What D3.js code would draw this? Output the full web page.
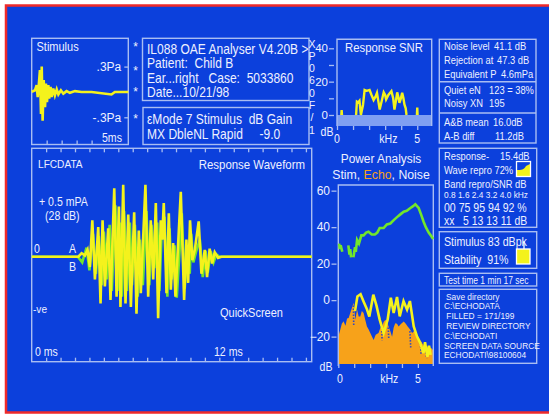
<!DOCTYPE html>
<html>
<head>
<meta charset="utf-8">
<script src="https://cdn.jsdelivr.net/npm/d3@7"></script>
<style>
  body { margin: 0; background: #fff; }
  text { font-family: "Liberation Sans", Arial, sans-serif; fill: #eef0ff; white-space: pre; }
  .axis text { font-size: 12px; fill: #eef0ff; }
</style>
</head>
<body>
<div class="container"></div>
<script>
// ---- stimulus click (ms, Pa)
const stimT = [0, 0.22, 0.33, 0.40, 0.49, 0.55, 0.62, 0.67, 0.73, 0.80, 0.89, 0.95, 1.02, 1.11, 1.17, 1.26, 1.33, 1.44, 1.55, 1.67, 1.78, 1.95, 2.11, 2.33, 2.55, 2.89, 3.33, 4.00, 5.33, 5.55, 6.45];
const stimA = [0, 0.02, 0.08, -0.06, 0.12, 0.26, -0.26, 0.30, -0.34, 0.14, -0.18, 0.10, -0.12, 0.08, -0.08, 0.06, -0.06, 0.04, -0.04, 0.03, -0.03, 0.02, -0.02, 0.01, -0.01, 0.01, 0, 0, -0.03, 0, 0];

// ---- response waveform (ms, mPa) trace A (yellow) and B (green)
const waveT = [0, 3.23, 3.46, 3.69, 3.87, 4.03, 4.20, 4.38, 4.61, 4.77, 4.91, 5.07, 5.30, 5.46, 5.72, 5.88, 6.04, 6.15, 6.34, 6.50, 6.69, 6.87, 7.10, 7.26, 7.42, 7.56, 7.88, 8.07, 8.25, 8.42, 8.60, 8.76, 8.94, 9.04, 9.15, 9.34, 9.50, 9.64, 9.80, 9.96, 10.33, 10.56, 10.72, 10.84, 10.97, 11.13, 11.30, 11.57, 11.76, 11.99, 12.15, 12.33, 12.50, 12.68, 12.91, 13.14, 19.4];
const waveA = [0, 0, 0.03, 0.01, 0.06, -0.09, 0.32, -0.20, 0.26, -0.41, 0.32, -0.26, 0.25, -0.38, 0.60, -0.35, 0.44, -0.44, 0.63, -0.41, 0.37, -0.44, 0.39, -0.50, 0.23, -0.32, 0.63, -0.35, 0.32, -0.20, 0.47, -0.54, 0.32, 0.15, 0.47, -0.32, 0.38, -0.29, 0.12, -0.35, 0.57, -0.38, 0.15, -0.23, 0.32, -0.03, 0.06, 0.31, -0.15, 0.06, -0.18, 0.07, -0.06, 0.04, -0.01, 0, 0];
const waveBT = [0, 3.2, 3.5, 3.8, 4.0, 4.25, 4.45, 4.65, 4.85, 5.0, 5.2, 5.4, 5.55, 5.8, 5.95, 6.1, 6.25, 6.4, 6.6, 6.8, 6.95, 7.15, 7.35, 7.5, 7.7, 7.95, 8.15, 8.3, 8.5, 8.7, 8.85, 9.0, 9.2, 9.4, 9.55, 9.7, 9.9, 10.05, 10.4, 10.6, 10.8, 10.95, 11.05, 11.2, 11.4, 11.65, 11.85, 12.05, 12.2, 12.4, 12.6, 12.8, 13.0, 19.4];
const waveBA = [0, 0, -0.05, 0.08, -0.12, 0.2, -0.15, 0.18, -0.25, 0.22, -0.2, 0.28, -0.3, 0.45, -0.3, 0.3, -0.35, 0.4, -0.3, 0.3, -0.25, 0.28, -0.35, 0.15, -0.25, 0.4, -0.25, 0.28, -0.1, 0.3, -0.3, 0.2, 0.35, -0.35, 0.25, -0.2, 0.1, -0.36, 0.38, -0.28, 0.1, -0.15, 0.2, -0.05, 0.05, 0.15, -0.18, 0.05, -0.14, 0.05, -0.05, 0.02, 0, 0];

// ---- response SNR (kHz, dB), null = gap
const snrF  = [0.27, 0.29, 0.31, 0.6, 1.19, 1.24, 1.32, 1.40, 1.49, 1.62, 1.72, 1.85, 2.03, 2.15, 2.28, 2.40, 2.49, 2.58, 2.66, 2.80, 2.91, 3.00, 3.06, 3.20, 3.39, 3.50, 3.58, 3.68, 3.75, 3.82, 3.89, 3.98, 4.06, 4.14, 4.20, 4.28, 4.33, 4.6, 4.98, 5.0, 5.02];
const snrDb = [0, 3, 0, null, 0, 8, 7.5, 8.5, 0, 6, 15, 14.5, 15, 12, 9, 11, 13.3, 8, 3.3, 9, 13.6, 12, 9.3, 12, 14.3, 10, 3.3, 9, 13.6, 11, 7.3, 10, 13.3, 10, 6.3, 4, 0, null, 0, 4.5, 0];

// ---- power analysis (kHz, dB)
const powStimF  = [0.05, 0.1, 0.15, 0.25, 0.4, 0.63, 0.7, 0.75, 0.8, 0.9, 0.95, 1.05, 1.1, 1.18, 1.3, 1.45, 1.59, 1.75, 1.9, 2.1, 2.3, 2.45, 2.6, 2.85, 3.05, 3.27, 3.5, 3.69, 3.9, 4.11, 4.3, 4.53, 4.7, 4.84, 5.05, 5.2, 5.36, 5.5, 5.68, 5.85, 5.96];
const powStimDb = [31, 28, 30, 26.5, null, 30, 25, 28, 23.5, null, 23.5, 29, 26.5, 33, 31, 35.5, 35.5, 37, 37.5, 36, 36, 37, 39.5, 39.5, 41.5, 42, 44, 45.5, 47, 48.5, 49, 50.5, 51.5, 52.5, 50.5, 47, 43, 40, 37, 35, 33.5];
const powEchoF  = [0, 0.13, 0.22, 0.33, 0.45, 0.55, 0.65, 0.75, 0.86, 0.96, 1.02, 1.07, 1.18, 1.28, 1.38, 1.48, 1.59, 1.7, 1.8, 1.9, 2.01, 2.12, 2.22, 2.35, 2.53, 2.65, 2.75, 2.85, 2.96, 3.06, 3.16, 3.27, 3.38, 3.48, 3.58, 3.69, 3.79, 3.95, 4.11, 4.24, 4.36, 4.5, 4.64, 4.75, 4.84, 5.0, 5.16, 5.3, 5.47, 5.58, 5.68, 5.8, 5.97];
const powEchoDb = [-20, -16, -13, -11.6, -14, -10, -9.8, -7, -4.2, -1.5, -6, -10.7, -5.2, -9, -8.9, -6, -7, -11, -14.4, -16, -18, -20, -21.8, -19, -18, -15, -14.4, -12, -10.7, -12, -14.4, -17, -20, -15, -12.6, -13, -14.4, -13, -11.7, -13, -14.4, -16, -18, -17, -17.6, -20, -21.8, -24, -26.5, -25, -27.4, -26, -27.4];
const powRespF  = [1.05, 1.2, 1.4, 1.6, 1.8, 1.95, 2.2, 2.4, 2.6, 2.85, 3.1, 3.3, 3.48, 3.69, 3.86, 4.1, 4.32, 4.5, 4.74, 4.95, 5.15, 5.35, 5.45, 5.6, 5.7, 5.8];
const powRespDb = [-6, 2, 3.2, -1, -5, -9, 3, -3, -10.7, -18, -10.7, 1.3, -7, 1.7, -8.9, -0.5, -5.2, -0.5, -14.4, -20, -23.5, -29, -23, -31, -25, -30];
// noise dips showing through the echo fill
const powNoiseF  = [0.95, 0.97, 1.6, 2.72, 2.75, 3.0, 3.14, 3.17, 4.0, 4.5, 4.55, 5.0, 5.15, 5.2, 5.3, 5.5, 5.55];
const powNoiseDb = [-3, -14, null, -12, -22, null, -15, -21, null, -17, -26, null, -22, -30, null, -27, -32];

// ---- texts
const infoLines = ["IL088 OAE Analyser V4.20B >", "Patient:  Child B", "Ear...right   Case:  5033860", "Date...10/21/98"];
const modeLines = ["\u03b5Mode 7 Stimulus  dB Gain", "MX DbleNL Rapid     -9.0"];
const sideLetters = ["X", "P", "0", "6", "0", "F", "/", "1"];
const statLabels = ["Noise level", "Rejection at", "Equivalent P", "Quiet eN", "Noisy XN", "A&B mean", "A-B diff"];
const statValues = ["41.1 dB", "47.3 dB", "4.6mPa", "123 = 38%", "195", "16.0dB", "11.2dB"];
const bandFreqs = "0.8 1.6 2.4 3.2 4.0 kHz";
const bandRepro = "00 75 95 94 92 %";
const bandSnr = "xx   5 13 13 11 dB";
const saveLines = ["Save directory", "C:\\ECHODATA", " FILLED = 171/199", " REVIEW DIRECTORY", "C:\\ECHODATI", "SCREEN DATA SOURCE", "ECHODATI\\98100604"];

const BG = "#0c40dc", LINE = "#a9bdf2", YEL = "#f4f21c", GRN = "#72e62a", ORG = "#f7a21a";

const svg = d3.select(".container").append("svg")
  .attr("width", 552).attr("height", 414);

// screen
svg.append("rect").attr("x", 6).attr("y", 5).attr("width", 543).attr("height", 407).attr("fill", BG);
svg.append("path").attr("d", "M549,5.5 H6 V412.5 H549")
  .attr("fill", "none").attr("stroke", "#ee2a2a").attr("stroke-width", 2.5);

function box(x0, y0, x1, y1) {
  svg.append("rect").attr("x", x0).attr("y", y0).attr("width", x1 - x0).attr("height", y1 - y0)
    .attr("fill", "none").attr("stroke", LINE).attr("stroke-width", 1.4);
}
// text squeezed sideways a bit, the screen font is narrow
function txt(x, y, s, size, anchor, k) {
  return svg.append("text")
    .attr("transform", `translate(${x},${y}) scale(${k || 0.88},1)`)
    .attr("font-size", size)
    .attr("text-anchor", anchor || "start").text(s);
}
function styleAxis(g) {
  g.select(".domain").remove();
  g.selectAll("line").attr("stroke", LINE).attr("stroke-width", 1.3);
}

// ---------- Stimulus panel
box(31.7, 38.3, 128.3, 144.5);
txt(36.5, 51, "Stimulus", 12.5);
const stX = d3.scaleLinear().domain([0, 6.45]).range([31.7, 128.3]);
const stY = d3.scaleLinear().domain([-0.3, 0.3]).range([117.3, 66.6]);
svg.append("g").attr("class", "axis").attr("transform", "translate(0,144.5)")
  .call(d3.axisTop(stX).tickValues([1, 2, 3, 4]).tickSize(4).tickFormat(""))
  .call(styleAxis);
svg.append("g").attr("class", "axis").attr("transform", "translate(128.3,0)")
  .call(d3.axisLeft(stY).tickValues([-0.3, 0.3]).tickSize(4).tickPadding(3)
    .tickFormat(d => d > 0 ? ".3Pa" : "-.3Pa"))
  .call(styleAxis);
txt(102, 141.5, "5ms", 12);
svg.append("path").datum(d3.zip(stimT, stimA))
  .attr("fill", "none").attr("stroke", YEL).attr("stroke-width", 2.6)
  .attr("d", d3.line().x(d => stX(d[0])).y(d => stY(d[1])));

// asterisks
[51, 75, 96, 123].forEach(y => txt(135.5, y, "*", 12, "middle", 1));

// ---------- info boxes
box(142.5, 38.3, 309, 100.5);
infoLines.forEach((s, i) => txt(147, 53.5 + i * 14.5, s, 14, "start", 0.86));
box(143, 107.5, 309, 144.5);
modeLines.forEach((s, i) => txt(147, 123.5 + i * 15, s, 14, "start", 0.86));
sideLetters.forEach((s, i) => txt(312, 47.5 + i * 12.3, s, 10.5, "middle", 1));

// ---------- Response SNR
const snX = d3.scaleLinear().domain([0, 5.9]).range([337, 431.7]);
const snY = d3.scaleLinear().domain([-6.6, 45.4]).range([126, 39.3]);
svg.append("rect").attr("x", 337).attr("y", snY(0)).attr("width", 431.7 - 337)
  .attr("height", snY(-6.6) - snY(0)).attr("fill", "#7f9ff2");
svg.append("path").attr("d", "M337,126 V39.3 H431.7 V126")
  .attr("fill", "none").attr("stroke", LINE).attr("stroke-width", 1.4);
txt(384, 51.5, "Response SNR", 13, "middle", 0.87);
svg.append("g").attr("class", "axis").attr("transform", "translate(334,0)")
  .call(d3.axisLeft(snY).tickValues([0, 10, 20, 30, 40]).tickSize(5).tickPadding(1)
    .tickFormat(d => d % 20 === 0 ? d : ""))
  .call(styleAxis)
  .call(g => g.selectAll("text").style("font-size", "11.5px"));
svg.append("g").attr("class", "axis").attr("transform", "translate(0,126)")
  .call(d3.axisBottom(snX).tickValues([0, 1, 2, 3, 4, 5]).tickSize(4).tickFormat(""))
  .call(styleAxis);
txt(327, 136, "dB", 12, "middle");
txt(snX(0), 143, "0", 12, "middle");
txt(snX(3.2), 143, "kHz", 12, "middle");
txt(snX(5), 143, "5", 12, "middle");
svg.append("path").datum(d3.zip(snrF, snrDb))
  .attr("fill", "none").attr("stroke", YEL).attr("stroke-width", 2.4)
  .attr("d", d3.line().defined(d => d[1] !== null).x(d => snX(d[0])).y(d => snY(d[1])));

// ---------- Response waveform
box(31.7, 148.3, 311.7, 361.7);
const wX = d3.scaleLinear().domain([0, 19.4]).range([31.7, 311.7]);
const wY = d3.scaleLinear().domain([-0.8, 0.8]).range([347.9, 165.5]);
svg.append("g").attr("class", "axis").attr("transform", "translate(0,148.3)")
  .call(d3.axisBottom(wX).tickValues(d3.range(1, 20)).tickSize(4).tickFormat(""))
  .call(styleAxis);
svg.append("g").attr("class", "axis").attr("transform", "translate(0,361.7)")
  .call(d3.axisTop(wX).tickValues(d3.range(1, 20)).tickSize(4).tickFormat(""))
  .call(styleAxis);
txt(38, 168, "LFCDATA", 11.5);
txt(305, 168.5, "Response Waveform", 13, "end");
txt(39, 206, "+ 0.5 mPA", 12);
txt(45, 219.5, "(28 dB)", 12);
txt(34, 253, "0", 12);
txt(69, 253, "A", 12);
txt(69, 270.5, "B", 12);
txt(33, 312.5, "-ve", 11.5);
txt(220, 317, "QuickScreen", 12.5);
txt(35, 356, "0 ms", 12);
txt(214, 356, "12 ms", 12);
const wLine = d3.line().x(d => wX(d[0])).y(d => wY(d[1]));
svg.append("path").datum(d3.zip(waveBT, waveBA))
  .attr("fill", "none").attr("stroke", GRN).attr("stroke-width", 2.6).attr("d", wLine);
svg.append("path").datum(d3.zip(waveT, waveA))
  .attr("fill", "none").attr("stroke", YEL).attr("stroke-width", 2.6).attr("d", wLine);

// ---------- Power analysis
txt(381, 162.5, "Power Analysis", 13.5, "middle", 0.88);
const pt = txt(381, 178.5, "", 13.5, "middle", 0.91);
pt.append("tspan").text("Stim, ");
pt.append("tspan").text("Echo").style("fill", ORG);
pt.append("tspan").text(", Noise");
const pX = d3.scaleLinear().domain([0, 5.97]).range([338.3, 433.3]);
const pY = d3.scaleLinear().domain([-35, 63.1]).range([364, 185]);
svg.append("path").datum(d3.zip(powEchoF, powEchoDb))
  .attr("fill", ORG)
  .attr("d", d3.area().x(d => pX(d[0])).y0(pY(-35)).y1(d => pY(d[1])));
const pLine = d3.line().defined(d => d[1] !== null).x(d => pX(d[0])).y(d => pY(d[1]));
svg.append("path").datum(d3.zip(powNoiseF, powNoiseDb))
  .attr("fill", "none").attr("stroke", "#2a48c8").attr("stroke-width", 1.6)
  .attr("stroke-dasharray", "1.5,1.5").attr("d", pLine);
svg.append("path").attr("d", "M338.3,366 V185 H433.3 V366")
  .attr("fill", "none").attr("stroke", LINE).attr("stroke-width", 1.4);
svg.append("g").attr("class", "axis").attr("transform", "translate(336.5,0)")
  .call(d3.axisLeft(pY).tickValues([-20, 0, 20, 40, 60]).tickSize(5).tickPadding(1.5))
  .call(styleAxis);
svg.append("g").attr("class", "axis").attr("transform", "translate(0,364)")
  .call(d3.axisBottom(pX).tickValues([0, 1, 2, 3, 4, 5]).tickSize(4).tickFormat(""))
  .call(styleAxis);
txt(326, 371, "dB", 12, "middle");
txt(pX(0.1), 382.5, "0", 12, "middle");
txt(pX(3.2), 382.5, "kHz", 12, "middle");
txt(pX(5), 382.5, "5", 12, "middle");
svg.append("path").datum(d3.zip(powStimF, powStimDb))
  .attr("fill", "none").attr("stroke", GRN).attr("stroke-width", 2.6).attr("d", pLine);
svg.append("path").datum(d3.zip(powRespF, powRespDb))
  .attr("fill", "none").attr("stroke", YEL).attr("stroke-width", 2.6).attr("d", pLine);

// ---------- right column
box(439.3, 39.3, 536, 143);
svg.append("path").attr("d", "M439.3,81.7 H536 M439.3,113 H536")
  .attr("stroke", LINE).attr("stroke-width", 1.4);
const statY = [50, 64, 78, 94, 106.5, 125.5, 140];
const statVX = [494, 497, 501, 489, 489, 493, 495];
statLabels.forEach((s, i) => txt(444, statY[i], s, 11, "start", 0.85));
statValues.forEach((s, i) => txt(statVX[i], statY[i], s, 11, "start", 0.85));

box(439.3, 148.3, 536.7, 227.3);
txt(444, 159.5, "Response-", 11, "start", 0.85);
txt(500, 159.5, "15.4dB", 11, "start", 0.85);
txt(444, 173.5, "Wave repro 72%", 11, "start", 0.85);
txt(444, 187.5, "Band repro/SNR dB", 11, "start", 0.85);
txt(444, 197.5, bandFreqs, 9.5, "start", 0.88);
txt(444, 211.5, bandRepro, 12, "start", 0.88);
txt(444, 224.5, bandSnr, 12, "start", 0.87);
svg.append("path").attr("d", "M517,176 V170 C521,170 524,170 526,166 L530,164 V176 Z").attr("fill", YEL);
svg.append("rect").attr("x", 516.5).attr("y", 161.5).attr("width", 14).attr("height", 15)
  .attr("fill", "none").attr("stroke", "#fff").attr("stroke-width", 1.3);

box(439.3, 231.7, 536.7, 268.3);
txt(444, 246, "Stimulus 83 dBpk", 13.5, "start", 0.79);
txt(444, 263.5, "Stability  91%", 13.5, "start", 0.79);
svg.append("rect").attr("x", 516.5).attr("y", 249).attr("width", 13.5).attr("height", 15)
  .attr("fill", YEL).attr("stroke", "#fff").attr("stroke-width", 1.3);
svg.append("line").attr("x1", 524).attr("x2", 524).attr("y1", 241).attr("y2", 249)
  .attr("stroke", "#fff").attr("stroke-width", 1.3);

box(439.3, 273.3, 536.7, 286);
txt(444, 283.5, "Test time 1 min 17 sec", 10.5, "start", 0.81);

box(439.3, 289.3, 536.7, 363.3);
saveLines.forEach((s, i) => txt(i === 0 ? 446 : 444, 299.5 + i * 9.8, s, 8.8, "start", 0.95));
</script>
</body>
</html>
